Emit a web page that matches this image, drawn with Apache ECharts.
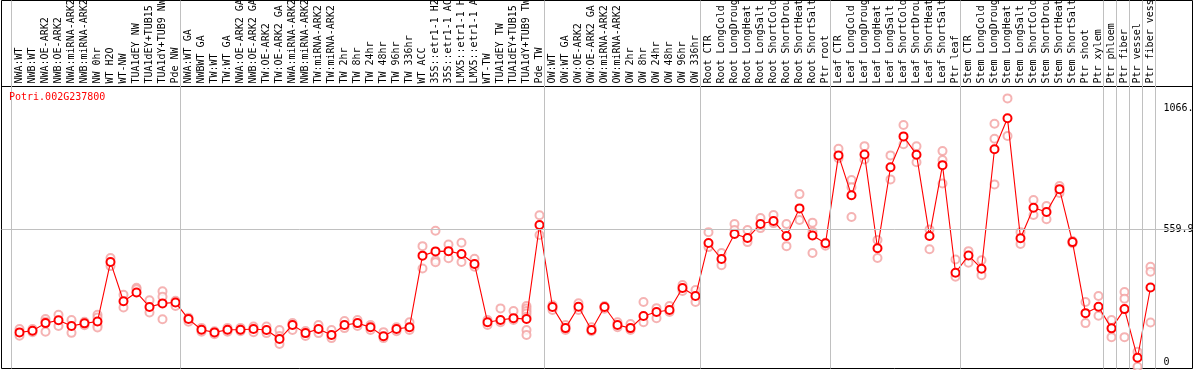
<!DOCTYPE html>
<html>
<head>
<meta charset="utf-8">
<script src="https://cdn.jsdelivr.net/npm/echarts@6/dist/echarts.min.js"></script>
<style>
html,body{margin:0;padding:0;background:#fff;}
#chart{width:1194px;height:370px;}
</style>
</head>
<body>
<div id="chart"></div>
<script>
var geneTitle = 'Potri.002G237800';

var categories = [
  'NWA:WT','NWB:WT','NWA:OE-ARK2','NWB:OE-ARK2','NWA:miRNA-ARK2','NWB:miRNA-ARK2','NW 0hr','WT H2O','WT-NW',
  'TUA1dEY NW','TUA1dEY+TUB15','TUA1dY+TUB9 NW','Pde NW',
  'NWA:WT GA','NWBWT GA','TW:WT','TW:WT GA','NWA:OE-ARK2 GA','NWB:OE-ARK2 GA','TW:OE-ARK2','TW:OE-ARK2 GA',
  'NWA:miRNA-ARK2','NWB:miRNA-ARK2','TW:miRNA-ARK2','TW:miRNA-ARK2','TW 2hr','TW 8hr','TW 24hr','TW 48hr','TW 96hr','TW 336hr',
  'WT ACC','35S::etr1-1 H2O','35S::etr1-1 ACC','LMX5::etr1-1 H2O','LMX5::etr1-1 ACC','WT-TW','TUA1dEY TW','TUA1dEY+TUB15','TUA1dY+TUB9 TW','Pde TW',
  'OW:WT','OW:WT GA','OW:OE-ARK2','OW:OE-ARK2 GA','OW:miRNA-ARK2','OW:miRNA-ARK2','OW 2hr','OW 8hr','OW 24hr','OW 48hr','OW 96hr','OW 336hr',
  'Root CTR','Root LongCold','Root LongDrought','Root LongHeat','Root LongSalt','Root ShortCold','Root ShortDrought','Root ShortHeat','Root ShortSalt','Ptr root',
  'Leaf CTR','Leaf LongCold','Leaf LongDrought','Leaf LongHeat','Leaf LongSalt','Leaf ShortCold','Leaf ShortDrought','Leaf ShortHeat','Leaf ShortSalt','Ptr leaf',
  'Stem CTR','Stem LongCold','Stem LongDrought','Stem LongHeat','Stem LongSalt','Stem ShortCold','Stem ShortDrought','Stem ShortHeat','Stem ShortSalt',
  'Ptr shoot','Ptr xylem','Ptr phloem','Ptr fiber','Ptr vessel','Ptr fiber vessel'
];

var meanValues = [
  125,132,164,176,152,163,171,421,256,293,232,247,251,
  181,136,125,136,136,139,135,97,156,122,139,114,156,164,147,109,139,147,
  448,466,467,455,413,168,177,185,181,577,
  232,143,233,135,232,156,143,194,211,219,312,278,
  501,434,539,522,581,594,531,647,533,500,
  870,702,874,479,820,950,873,531,829,376,
  449,393,896,1026,521,650,632,728,505,
  206,233,142,223,18,314
];

var replicateValues = [
  [139,111],[139,126],[181,170,128],[199,152],[177,123],[170,155],[199,188,153,146],[438,404],[283,230],
  [313,307],[260,209],[298,275,180],[258,236],
  [187,170],[144,128],[117,130],[144,128],[144,130],[150,126],[150,122],[135,110,76],
  [164,135],[131,110],[156,122],[135,101],[173,143],[177,152],[156,135],[126,101],[147,130],[168,135],
  [488,394],[553,429,420],[495,437],[502,421],[435,401],[177,156],[226,168],[215,177],[236,226,215,205,191,135,114],[618,535],
  [239,219],[156,135],[248,219],[147,130],[236,225],[168,147],[160,135],[253,168],[227,185],[236,211],[324,299],[303,253],
  [547,484],[459,408],[581,556],[556,505],[606,564],[619,585],[581,488],[707,598],[587,549,459],[502,490],
  [898,858],[766,736,611],[909,853],[514,438],[870,769],[998,917],[908,841],[558,475],[888,851,752],[432,359],
  [467,418],[429,366],[1003,940,748],[1110,952],[547,497],[682,619],[657,601],[741,712],[510,500],
  [253,164],[278,195],[177,105],[295,267,105],[43,-20],[401,380,167]
];

// indices at which a new sample group starts (vertical separators)
var groupStarts = [0, 13, 41, 53, 63, 73, 84, 85, 86, 87, 88];

var yTickValues = [0, 559.9, 1066.2];
var yTickLabels = ['0', '559.9', '1066.'];

var meanData = meanValues.map(function (v, i) { return [i, v]; });
var repData = [];
replicateValues.forEach(function (arr, i) {
  arr.forEach(function (v) { repData.push([i, v]); });
});
var sepLines = groupStarts.map(function (g) { return { xAxis: g - 0.64 }; });

var FONT = 'DejaVu Sans Mono';

var chart = echarts.init(document.getElementById('chart'), null, { renderer: 'canvas' });
chart.setOption({
  animation: false,
  backgroundColor: '#fff',
  title: {
    text: geneTitle,
    left: 9,
    top: 92,
    padding: 0,
    textStyle: { color: '#ff0000', fontFamily: FONT, fontSize: 10, fontWeight: 'normal' }
  },
  grid: {
    left: 1.5, right: 1.5, top: 0.5, bottom: 1.5,
    containLabel: false,
    outerBoundsMode: 'none',
    show: true, borderColor: '#000', borderWidth: 1, backgroundColor: 'transparent'
  },
  xAxis: {
    type: 'value',
    position: 'top',
    offset: -86,
    min: -1.3846,
    max: 90.2308,
    axisLine: { show: true, onZero: false, lineStyle: { color: '#000', width: 1 } },
    axisTick: { show: false },
    splitLine: { show: false },
    axisLabel: {
      customValues: categories.map(function (c, i) { return i; }),
      formatter: function (v) { return categories[Math.round(v)]; },
      rotate: -90,
      margin: 3,
      color: '#000',
      fontFamily: FONT,
      fontSize: 10,
      hideOverlap: false,
      showMinLabel: true,
      showMaxLabel: true
    }
  },
  yAxis: {
    type: 'value',
    position: 'right',
    min: -27,
    max: 1522,
    axisLine: { show: false },
    axisTick: { show: false },
    splitLine: { show: false },
    axisLabel: {
      customValues: yTickValues,
      formatter: function (v) {
        var k = yTickValues.indexOf(v);
        return k >= 0 ? yTickLabels[k] : '';
      },
      inside: true,
      align: 'left',
      margin: 29,
      color: '#000',
      fontFamily: FONT,
      fontSize: 10
    }
  },
  series: [
    {
      name: 'separators',
      type: 'line',
      data: [],
      silent: true,
      z: 0,
      markLine: {
        silent: true,
        symbol: ['none', 'none'],
        label: { show: false },
        lineStyle: { color: '#c0c0c0', width: 1, type: 'solid' },
        data: sepLines.concat([{ yAxis: 559.9 }])
      }
    },
    {
      name: 'replicates',
      type: 'scatter',
      data: repData,
      symbol: 'emptyCircle',
      symbolSize: 8,
      z: 2,
      itemStyle: { color: '#f2a0a0', borderColor: '#f2a0a0', borderWidth: 1.2 }
    },
    {
      name: 'mean',
      type: 'line',
      data: meanData,
      symbol: 'emptyCircle',
      symbolSize: 8,
      z: 3,
      lineStyle: { color: '#ff0000', width: 1.1 },
      itemStyle: { color: '#ff0000', borderColor: '#ff0000', borderWidth: 1.5 }
    }
  ]
});
</script>
</body>
</html>
